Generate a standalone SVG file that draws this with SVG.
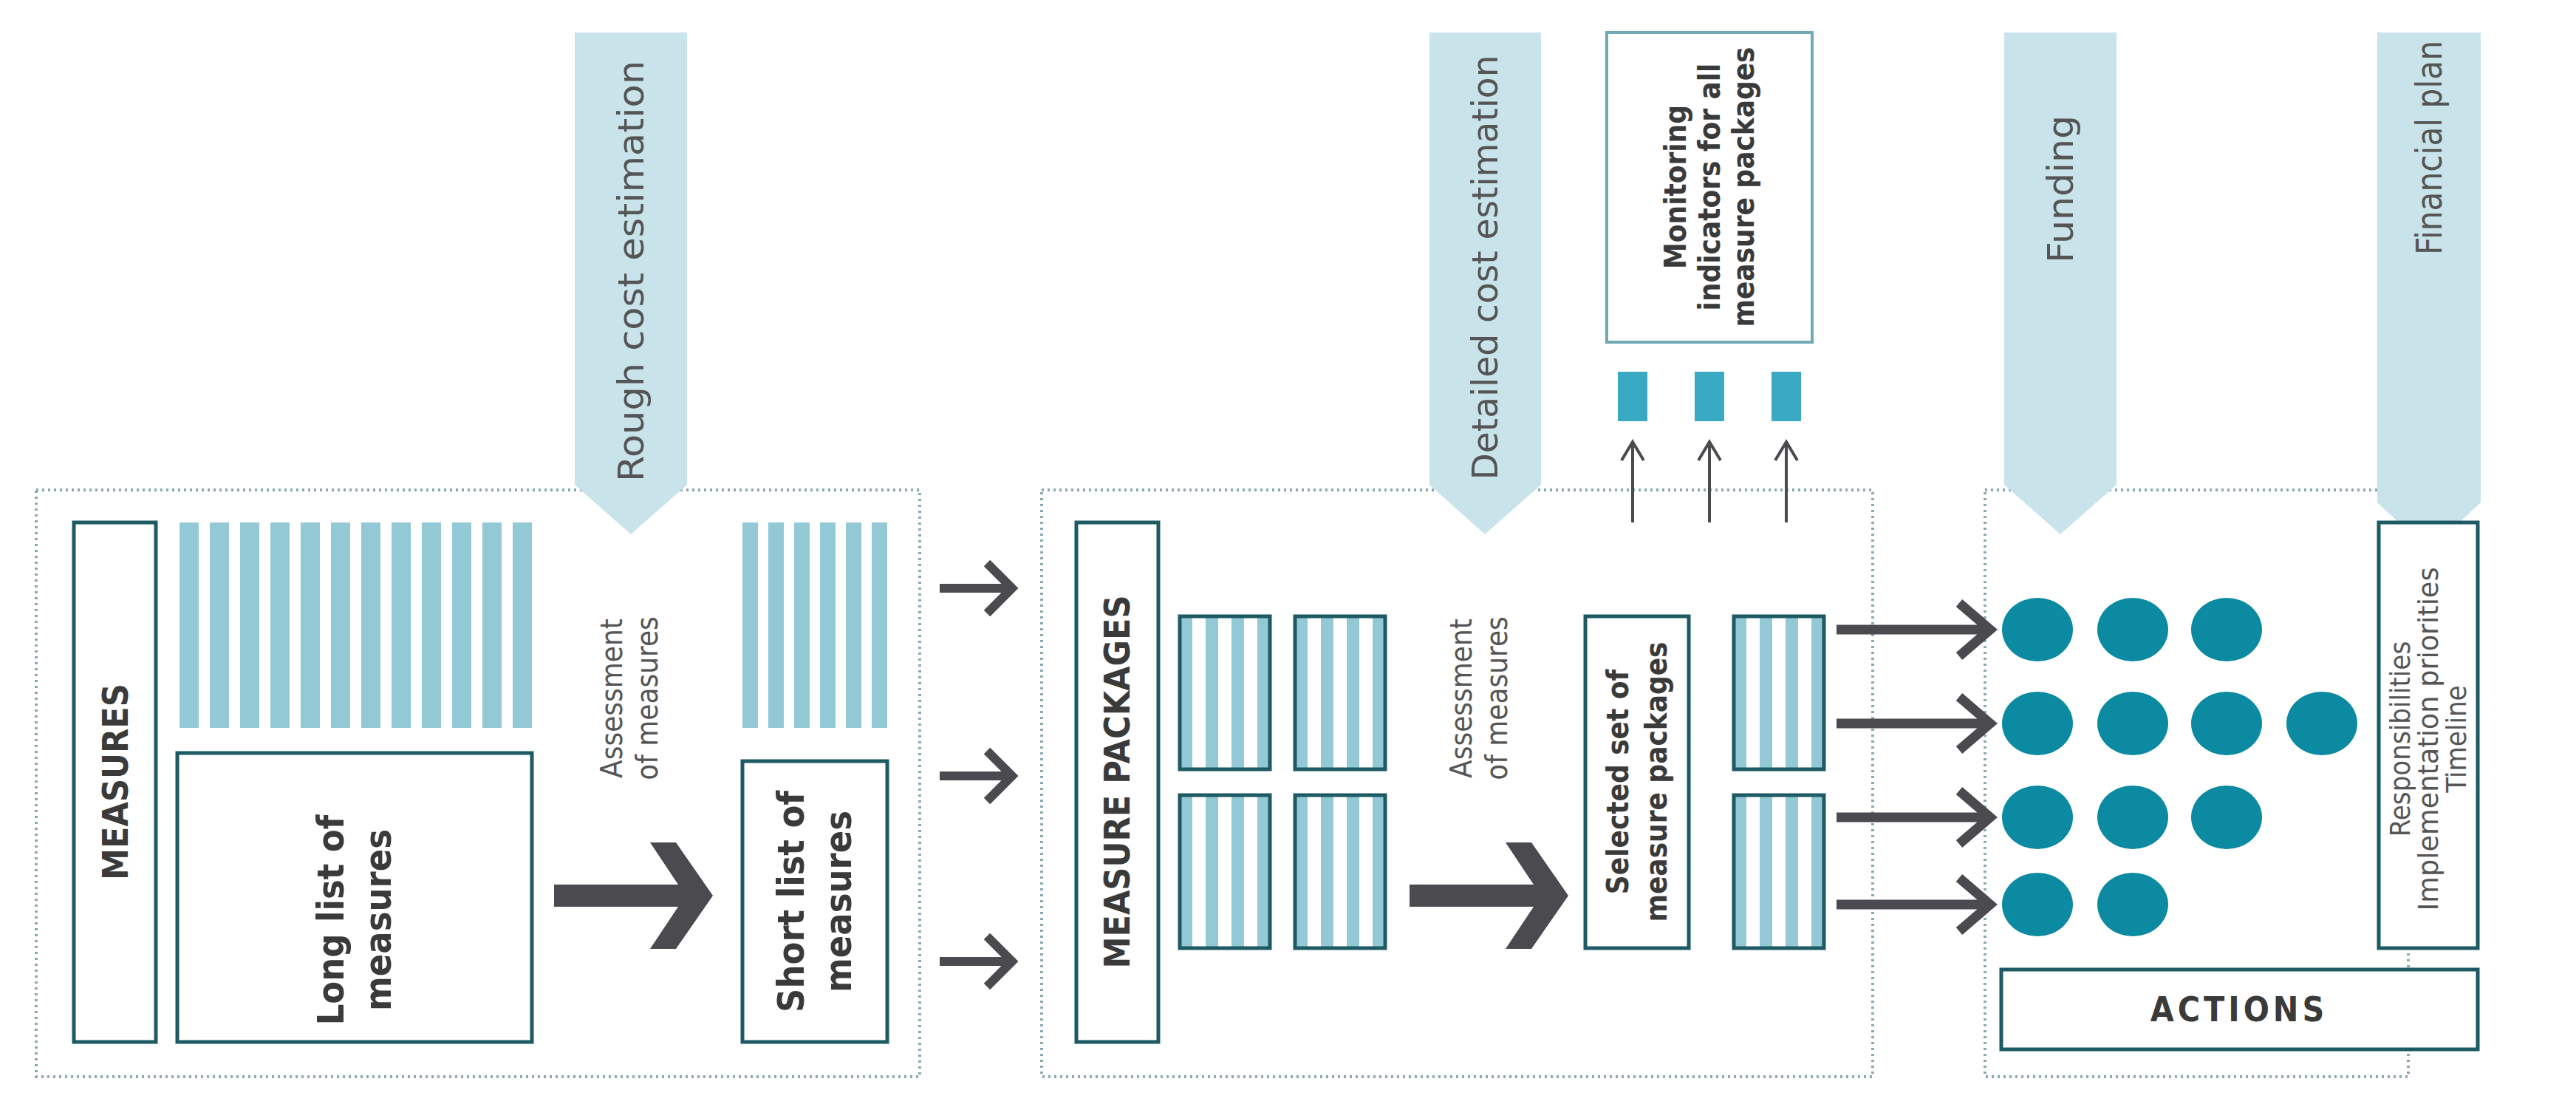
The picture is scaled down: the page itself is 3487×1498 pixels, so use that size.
<svg xmlns="http://www.w3.org/2000/svg" width="3487" height="1498" viewBox="0 0 3487 1498">
<style>
.panel{fill:none;stroke:#8aa9b0;stroke-width:4;stroke-dasharray:3 5}
.box{fill:#fff;stroke:#1d5a63;stroke-width:5}
.mon{fill:#fff;stroke:#6fa9b5;stroke-width:4}
.banner{fill:#c8e4ea}
.stripe{fill:#93c9d4}
.bt{font-family:"DejaVu Sans Condensed","Liberation Sans",sans-serif;font-weight:bold;fill:#3a3a3a;text-anchor:middle;dominant-baseline:central}
.lt{font-family:"DejaVu Sans Condensed","Liberation Sans",sans-serif;fill:#555;text-anchor:middle;dominant-baseline:central}
.dot{fill:#0b8aa1}
.ind{fill:#3aaac4}
.arr{fill:none;stroke:#4a4a4f;stroke-width:12}
.thick{fill:none;stroke:#4a4a4f;stroke-width:13}
.thin{fill:none;stroke:#4a4a4f;stroke-width:4}
.big{fill:#4a4a4f}
</style>
<rect width="3487" height="1498" fill="#fff"/>
<g id="panels">
<rect class="panel" x="49" y="663" width="1196" height="794"/>
<rect class="panel" x="1410" y="663" width="1125" height="794"/>
<rect class="panel" x="2687" y="663" width="573" height="794"/>
</g>
<g id="banner-rough"><polygon class="banner" points="778,44 930,44 930,656 854,723 778,656"/><text class="lt" font-size="48" transform="rotate(-90 854 367)" x="854" y="367" textLength="570" lengthAdjust="spacingAndGlyphs">Rough cost estimation</text></g>
<g id="banner-detailed"><polygon class="banner" points="1935,44 2086,44 2086,656 2010,723 1935,656"/><text class="lt" font-size="48" transform="rotate(-90 2010 362)" x="2010" y="362" textLength="575" lengthAdjust="spacingAndGlyphs">Detailed cost estimation</text></g>
<g id="banner-funding"><polygon class="banner" points="2713,44 2865,44 2865,656 2789,723 2713,656"/><text class="lt" font-size="48" transform="rotate(-90 2789 256)" x="2789" y="256" textLength="200" lengthAdjust="spacingAndGlyphs">Funding</text></g>
<g id="banner-financial"><polygon class="banner" points="3218,44 3358,44 3358,680 3288,745 3218,680"/><text class="lt" font-size="48" transform="rotate(-90 3288 200)" x="3288" y="200" textLength="290" lengthAdjust="spacingAndGlyphs">Financial plan</text></g>

<g id="measures"><rect class="box" x="100" y="707" width="111" height="703"/><text class="bt" font-size="48" transform="rotate(-90 156 1058)" x="156" y="1058">MEASURES</text></g>
<g id="long-stripes">
<rect class="stripe" x="243" y="707" width="26" height="278"/><rect class="stripe" x="284" y="707" width="26" height="278"/><rect class="stripe" x="325" y="707" width="26" height="278"/><rect class="stripe" x="366" y="707" width="26" height="278"/><rect class="stripe" x="407" y="707" width="26" height="278"/><rect class="stripe" x="448" y="707" width="26" height="278"/><rect class="stripe" x="489" y="707" width="26" height="278"/><rect class="stripe" x="530" y="707" width="26" height="278"/><rect class="stripe" x="571" y="707" width="26" height="278"/><rect class="stripe" x="612" y="707" width="26" height="278"/><rect class="stripe" x="653" y="707" width="26" height="278"/><rect class="stripe" x="694" y="707" width="26" height="278"/>
</g>
<g id="long-list"><rect class="box" x="240" y="1019" width="480" height="391"/><text class="bt" font-size="50" transform="rotate(-90 480 1245)" x="480" y="1245"><tspan x="480" dy="-32">Long list of</tspan><tspan x="480" dy="64">measures</tspan></text></g>
<g id="assess1"><text class="lt" font-size="40" transform="rotate(-90 852 945)" x="852" y="945"><tspan x="852" dy="-24">Assessment</tspan><tspan x="852" dy="48">of measures</tspan></text></g>
<g id="short-stripes">
<rect class="stripe" x="1005" y="707" width="21" height="278"/><rect class="stripe" x="1040" y="707" width="21" height="278"/><rect class="stripe" x="1075" y="707" width="21" height="278"/><rect class="stripe" x="1110" y="707" width="21" height="278"/><rect class="stripe" x="1145" y="707" width="21" height="278"/><rect class="stripe" x="1180" y="707" width="21" height="278"/>
</g>
<g id="short-list"><rect class="box" x="1005" y="1030" width="196" height="380"/><text class="bt" font-size="50" transform="rotate(-90 1103 1220)" x="1103" y="1220"><tspan x="1103" dy="-32">Short list of</tspan><tspan x="1103" dy="64">measures</tspan></text></g>

<g id="measure-packages"><rect class="box" x="1457" y="707" width="111" height="703"/><text class="bt" font-size="48" transform="rotate(-90 1512 1058)" x="1512" y="1058">MEASURE PACKAGES</text></g>
<defs>
<g id="pkg">
<rect width="122" height="207" fill="#fff"/>
<rect class="stripe" x="0" y="0" width="17" height="207"/><rect class="stripe" x="35" y="0" width="17" height="207"/><rect class="stripe" x="70" y="0" width="17" height="207"/><rect class="stripe" x="105" y="0" width="17" height="207"/>
<rect width="122" height="207" fill="none" stroke="#1d5a63" stroke-width="5"/>
</g>
</defs>
<g id="packages">
<use href="#pkg" x="1597" y="834"/><use href="#pkg" x="1753" y="834"/><use href="#pkg" x="1597" y="1076"/><use href="#pkg" x="1753" y="1076"/>
</g>
<g id="assess2"><text class="lt" font-size="40" transform="rotate(-90 2002 945)" x="2002" y="945"><tspan x="2002" dy="-24">Assessment</tspan><tspan x="2002" dy="48">of measures</tspan></text></g>
<g id="selected"><rect class="box" x="2146" y="834" width="140" height="449"/><text class="bt" font-size="40" transform="rotate(-90 2216 1058)" x="2216" y="1058"><tspan x="2216" dy="-26">Selected set of</tspan><tspan x="2216" dy="52">measure packages</tspan></text></g>
<g id="selected-packages"><use href="#pkg" x="2347" y="834"/><use href="#pkg" x="2347" y="1076"/></g>
<g id="monitoring"><rect class="mon" x="2175" y="44" width="278" height="419"/><text class="bt" font-size="40" transform="rotate(-90 2314 253)" x="2314" y="253"><tspan x="2314" dy="-46">Monitoring</tspan><tspan x="2314" dy="46">indicators for all</tspan><tspan x="2314" dy="46">measure packages</tspan></text></g>
<g id="indicators"><rect class="ind" x="2190" y="503" width="40" height="67"/><rect class="ind" x="2294" y="503" width="40" height="67"/><rect class="ind" x="2398" y="503" width="40" height="67"/></g>

<g id="dots">
<ellipse class="dot" cx="2758" cy="852" rx="48" ry="43"/><ellipse class="dot" cx="2887" cy="852" rx="48" ry="43"/><ellipse class="dot" cx="3014" cy="852" rx="48" ry="43"/>
<ellipse class="dot" cx="2758" cy="979" rx="48" ry="43"/><ellipse class="dot" cx="2887" cy="979" rx="48" ry="43"/><ellipse class="dot" cx="3014" cy="979" rx="48" ry="43"/><ellipse class="dot" cx="3143" cy="979" rx="48" ry="43"/>
<ellipse class="dot" cx="2758" cy="1106" rx="48" ry="43"/><ellipse class="dot" cx="2887" cy="1106" rx="48" ry="43"/><ellipse class="dot" cx="3014" cy="1106" rx="48" ry="43"/>
<ellipse class="dot" cx="2758" cy="1224" rx="48" ry="43"/><ellipse class="dot" cx="2887" cy="1224" rx="48" ry="43"/>
</g>
<g id="responsibilities"><rect class="box" x="3220" y="707" width="134" height="576"/><text class="lt" font-size="38" transform="rotate(-90 3287 1000)" x="3287" y="1000"><tspan x="3287" dy="-38">Responsibilities</tspan><tspan x="3287" dy="38" textLength="465" lengthAdjust="spacingAndGlyphs">Implementation priorities</tspan><tspan x="3287" dy="38">Timeline</tspan></text></g>
<g id="actions"><rect class="box" x="2709" y="1312" width="645" height="108"/><text class="bt" font-size="46" letter-spacing="5" x="3031" y="1366">ACTIONS</text></g>

<g id="connectors">
<rect class="big" x="750" y="1197" width="185" height="30"/><polygon class="big" points="880,1140 915,1140 965,1212 915,1284 880,1284 928,1212"/>
<rect class="big" x="1908" y="1197" width="180" height="30"/><polygon class="big" points="2038,1140 2073,1140 2123,1212 2073,1284 2038,1284 2086,1212"/>
<path class="arr" d="M1272,796 H1368 M1336,762 L1370,796 L1336,830"/>
<path class="arr" d="M1272,1050 H1368 M1336,1016 L1370,1050 L1336,1084"/>
<path class="arr" d="M1272,1301 H1368 M1336,1267 L1370,1301 L1336,1335"/>
<path class="thin" d="M2210,707 V598 M2195,623 L2210,598 L2225,623"/>
<path class="thin" d="M2314,707 V598 M2299,623 L2314,598 L2329,623"/>
<path class="thin" d="M2418,707 V598 M2403,623 L2418,598 L2433,623"/>
<path class="thick" d="M2486,852 H2690 M2652,816 L2694,852 L2652,888"/>
<path class="thick" d="M2486,979 H2690 M2652,943 L2694,979 L2652,1015"/>
<path class="thick" d="M2486,1106 H2690 M2652,1070 L2694,1106 L2652,1142"/>
<path class="thick" d="M2486,1224 H2690 M2652,1188 L2694,1224 L2652,1260"/>
</g>
</svg>
